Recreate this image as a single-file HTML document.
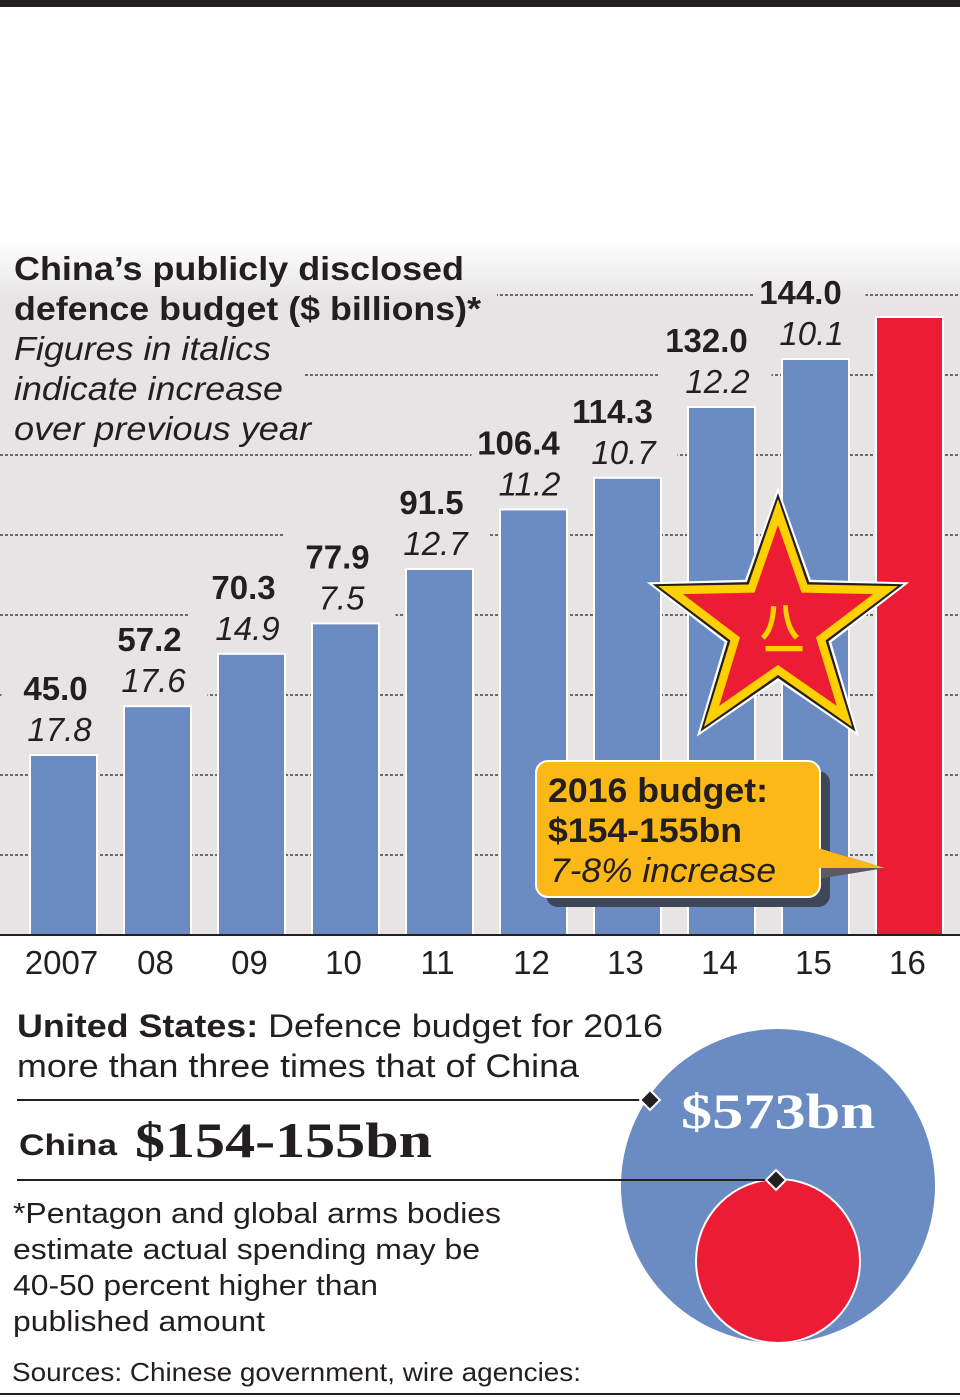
<!DOCTYPE html>
<html><head><meta charset="utf-8"><style>
html,body{margin:0;padding:0;background:#fff}
svg{display:block}
text{font-family:"Liberation Sans",Arial,sans-serif;fill:#231f20}
</style></head><body>
<svg width="960" height="1400" viewBox="0 0 960 1400">
<defs>
<linearGradient id="bg" gradientUnits="userSpaceOnUse" x1="0" y1="240" x2="0" y2="300">
<stop offset="0" stop-color="#ffffff"/><stop offset="1" stop-color="#e6e4e5"/>
</linearGradient>
</defs>
<rect x="0" y="0" width="960" height="7" fill="#231f20"/>
<rect x="0" y="240" width="960" height="695" fill="url(#bg)"/>
<g id="grid"></g>
<rect x="0" y="240" width="497" height="90" fill="url(#bg)"/>
<rect x="0" y="330" width="305" height="123" fill="url(#bg)"/>
<g id="bars"></g>
<g id="labels"></g>
<g>
<text x="14" y="280" font-size="33" font-weight="bold" textLength="450" lengthAdjust="spacingAndGlyphs">China’s publicly disclosed</text>
<text x="14" y="320" font-size="33" font-weight="bold" textLength="467" lengthAdjust="spacingAndGlyphs">defence budget ($ billions)*</text>
<text x="14" y="360" font-size="33" font-style="italic" textLength="257" lengthAdjust="spacingAndGlyphs">Figures in italics</text>
<text x="14" y="400" font-size="33" font-style="italic" textLength="269" lengthAdjust="spacingAndGlyphs">indicate increase</text>
<text x="14" y="440" font-size="33" font-style="italic" textLength="297" lengthAdjust="spacingAndGlyphs">over previous year</text>
</g>
<line x1="0" y1="935" x2="960" y2="935" stroke="#231f20" stroke-width="2"/>
<g id="xticks"></g>
<g>
<polygon id="s0" fill="#fff"/>
<polygon id="s1" fill="#231f20"/>
<polygon id="s2" fill="#fdd000"/>
<polygon id="s3" fill="#ec1c35"/>
<text x="780" y="636" font-size="40" font-weight="bold" text-anchor="middle" style="fill:#fdd000;font-family:'Noto Sans CJK SC','WenQuanYi Zen Hei',sans-serif">八</text>
<text x="784" y="664" font-size="40" font-weight="bold" text-anchor="middle" style="fill:#fdd000;font-family:'Noto Sans CJK SC','WenQuanYi Zen Hei',sans-serif">一</text>
</g>
<g>
<rect x="546" y="771" width="284" height="136" rx="12" fill="#3e4758"/>
<polygon points="812,846 885,868 812,880" fill="#5a5a60"/>
<rect x="536" y="761" width="284" height="136" rx="12" fill="#fbb817" stroke="#fff" stroke-width="2"/>
<polygon points="818,848 885,868 818,868" fill="#fbb817"/>
<text x="548" y="802" font-size="34" font-weight="bold" textLength="220" lengthAdjust="spacingAndGlyphs">2016 budget:</text>
<text x="548" y="842" font-size="34" font-weight="bold" textLength="194" lengthAdjust="spacingAndGlyphs">$154-155bn</text>
<text x="550" y="882" font-size="34" font-style="italic" textLength="226" lengthAdjust="spacingAndGlyphs">7-8% increase</text>
</g>
<g>
<text x="17" y="1037" font-size="32" textLength="646" lengthAdjust="spacingAndGlyphs"><tspan font-weight="bold">United States:</tspan> Defence budget for 2016</text>
<text x="17" y="1077" font-size="32" textLength="562" lengthAdjust="spacingAndGlyphs">more than three times that of China</text>
</g>
<circle cx="778" cy="1186" r="157" fill="#6b8bc3"/>
<circle cx="778" cy="1261" r="82" fill="#ec1c35" stroke="#fff" stroke-width="2"/>
<text x="778" y="1128" font-size="50" font-weight="bold" text-anchor="middle" style="fill:#fff;font-family:'Liberation Serif',serif" textLength="194" lengthAdjust="spacingAndGlyphs">$573bn</text>
<line x1="17" y1="1100" x2="650" y2="1100" stroke="#231f20" stroke-width="2"/>
<rect x="643" y="1093" width="14" height="14" fill="#231f20" stroke="#fff" stroke-width="2" transform="rotate(45 650 1100)"/>
<line x1="17" y1="1180" x2="776" y2="1180" stroke="#231f20" stroke-width="2"/>
<rect x="769" y="1173" width="14" height="14" fill="#231f20" stroke="#fff" stroke-width="2" transform="rotate(45 776 1180)"/>
<text x="19" y="1155" font-size="30" font-weight="bold" textLength="98" lengthAdjust="spacingAndGlyphs">China</text>
<text x="135" y="1157" font-size="50" font-weight="bold" style="font-family:'Liberation Serif',serif" textLength="297" lengthAdjust="spacingAndGlyphs">$154-155bn</text>
<g>
<text x="13" y="1223" font-size="29" textLength="488" lengthAdjust="spacingAndGlyphs">*Pentagon and global arms bodies</text>
<text x="13" y="1259" font-size="29" textLength="467" lengthAdjust="spacingAndGlyphs">estimate actual spending may be</text>
<text x="13" y="1295" font-size="29" textLength="365" lengthAdjust="spacingAndGlyphs">40-50 percent higher than</text>
<text x="13" y="1331" font-size="29" textLength="252" lengthAdjust="spacingAndGlyphs">published amount</text>
</g>
<text x="12" y="1381" font-size="26" textLength="569" lengthAdjust="spacingAndGlyphs">Sources: Chinese government, wire agencies:</text>
<line x1="0" y1="1394" x2="960" y2="1394" stroke="#231f20" stroke-width="2"/>
</svg>
<script>
const years = ["2007","08","09","10","11","12","13","14","15","16"];
const budgets = [45.0,57.2,70.3,77.9,91.5,106.4,114.3,132.0,144.0,154.5];
const budgetLabels = ["45.0","57.2","70.3","77.9","91.5","106.4","114.3","132.0","144.0",""];
const increaseLabels = ["17.8","17.6","14.9","7.5","12.7","11.2","10.7","12.2","10.1",""];
const gridValues = [20,40,60,80,100,120,140,160];
const NS="http://www.w3.org/2000/svg";
const baseY=935, pxPer=4.0;
const yS=v=>baseY-v*pxPer;
const xS=i=>30+i*94;
const bw=67;
function mk(t,a){const e=document.createElementNS(NS,t);for(const k in a)e.setAttribute(k,a[k]);return e;}
const grid=document.getElementById('grid');
gridValues.forEach(v=>{
  const l=mk('line',{x1:0,x2:960,y1:yS(v),y2:yS(v),stroke:'#231f20','stroke-width':1.3,'stroke-dasharray':'3 2'});
  
  
  grid.appendChild(l);
});
const bars=document.getElementById('bars');
const labels=document.getElementById('labels');
const xt=document.getElementById('xticks');
budgets.forEach((v,i)=>{
  const last=i===budgets.length-1;
  const r=mk('rect',{x:xS(i),y:yS(v),width:bw,height:baseY-yS(v),fill:last?'#ec1c35':'#6b8bc3',stroke:'#fff','stroke-width':2});
  
  
  bars.appendChild(r);
  const cx=xS(i)+bw/2;
  if(budgetLabels[i]){
    const long=budgetLabels[i].length>4;
    const bx=long?cx-15:cx-8;
    const bg=mk('rect',{x:cx-62,y:yS(v)-90,width:112,height:84,fill:'url(#bg)'});
    
    
    labels.appendChild(bg);
    const t=mk('text',{x:bx,y:yS(v)-55,'font-size':33,'font-weight':'bold','text-anchor':'middle'});
    t.textContent=budgetLabels[i];
    
    
    labels.appendChild(t);
    const t2=mk('text',{x:cx-4,y:yS(v)-14,'font-size':33,'font-style':'italic','text-anchor':'middle'});
    t2.textContent=increaseLabels[i];
    
    
    labels.appendChild(t2);
  }
  const yt=mk('text',{x:cx-2,y:974,'font-size':33,'text-anchor':'middle'});
  yt.textContent=years[i];
  
  
  xt.appendChild(yt);
});
function star(cx,cy,R,r){let p=[];for(let k=0;k<10;k++){const a=-Math.PI/2+k*Math.PI/5;const rr=k%2?r:R;p.push((cx+rr*Math.cos(a)).toFixed(1)+','+(cy+rr*Math.sin(a)).toFixed(1));}return p.join(' ');}
const SC=[778,625];
document.getElementById('s0').setAttribute('points',star(SC[0],SC[1],138,56));
document.getElementById('s1').setAttribute('points',star(SC[0],SC[1],132,53));
document.getElementById('s2').setAttribute('points',star(SC[0],SC[1],126,50));
document.getElementById('s3').setAttribute('points',star(SC[0],SC[1],100,40));
</script>
</body></html>
